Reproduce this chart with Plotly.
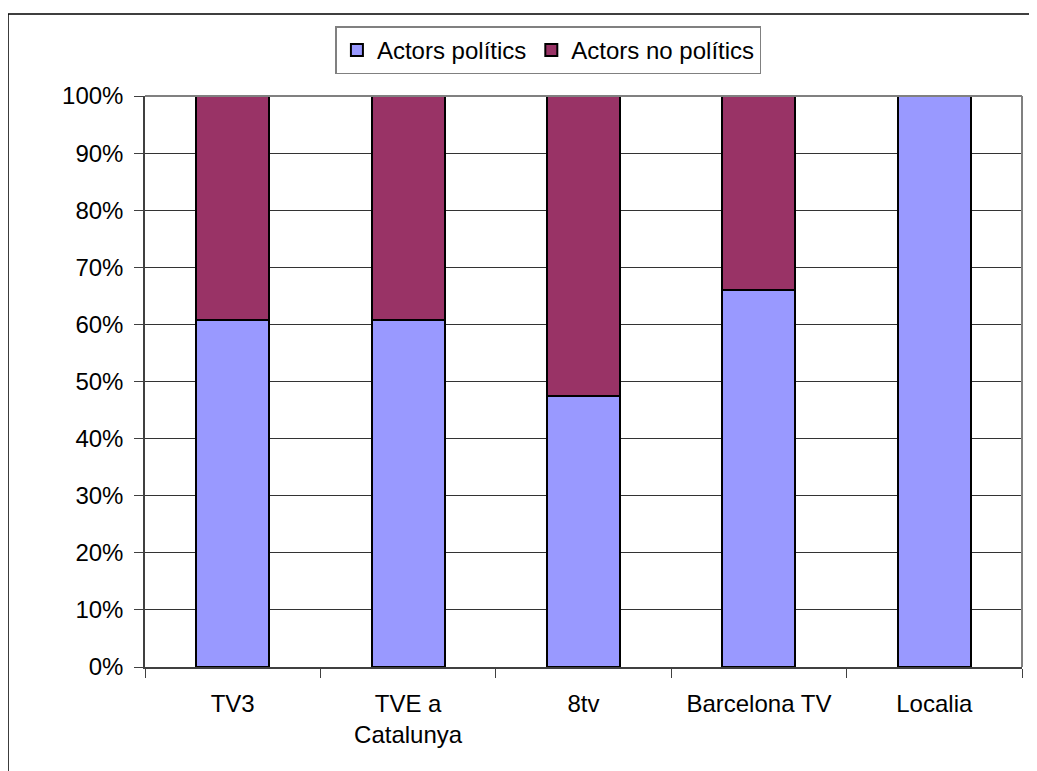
import plotly.graph_objects as go

categories = ["TV3", "TVE a<br>Catalunya", "8tv", "Barcelona TV", "Localia"]
politics = [60.8, 60.8, 47.5, 66.0, 100.0]
non_politics = [39.2, 39.2, 52.5, 34.0, 0.0]
y_ticks = [0, 10, 20, 30, 40, 50, 60, 70, 80, 90, 100]
y_tick_labels = [f"{v}%" for v in y_ticks]

font = "Liberation Sans, Arial, sans-serif"

fig = go.Figure()
fig.add_trace(go.Bar(x=categories, y=politics, name="Actors polítics",
                     marker=dict(color="#9999FF", line=dict(color="#000000", width=2))))
fig.add_trace(go.Bar(x=categories, y=non_politics, name="Actors no polítics",
                     marker=dict(color="#993366", line=dict(color="#000000", width=2))))

fig.update_layout(
    barmode="stack",
    bargap=0.584,
    width=1037, height=771,
    margin=dict(l=137, r=23, t=88, b=112),
    paper_bgcolor="white", plot_bgcolor="white",
    font=dict(family=font, size=24, color="#000000"),
    showlegend=True,
    legend=dict(orientation="h", x=0.46, xanchor="center", y=1.08, yanchor="middle",
                bordercolor="#808080", borderwidth=1.5, bgcolor="white",
                font=dict(family=font, size=24), traceorder="normal"),
    xaxis=dict(showline=True, linecolor="#404040", linewidth=1.5,
               ticks="outside", tickson="boundaries", ticklen=9, tickcolor="#404040",
               ticklabelstandoff=14,
               showgrid=False, tickfont=dict(size=24)),
    yaxis=dict(range=[0, 100], tickvals=y_ticks, ticktext=y_tick_labels,
               showline=True, linecolor="#404040", linewidth=1.5,
               ticks="outside", ticklen=9, tickcolor="#404040",
               ticklabelstandoff=6,
               showgrid=True, gridcolor="#333333", gridwidth=1,
               zeroline=False, tickfont=dict(size=24)),
    shapes=[
        dict(type="line", xref="paper", yref="paper", x0=1, x1=1, y0=0, y1=1,
             line=dict(color="#808080", width=2)),
        dict(type="line", xref="paper", yref="paper", x0=0, x1=1, y0=1, y1=1,
             line=dict(color="#808080", width=2)),
        dict(type="path", xref="paper", yref="paper",
             path="M -0.1562,-0.3 L -0.1562,1.1436 L 1.1,1.1436",
             line=dict(color="#000000", width=1.5)),
    ],
)

fig.write_html("out.html")
